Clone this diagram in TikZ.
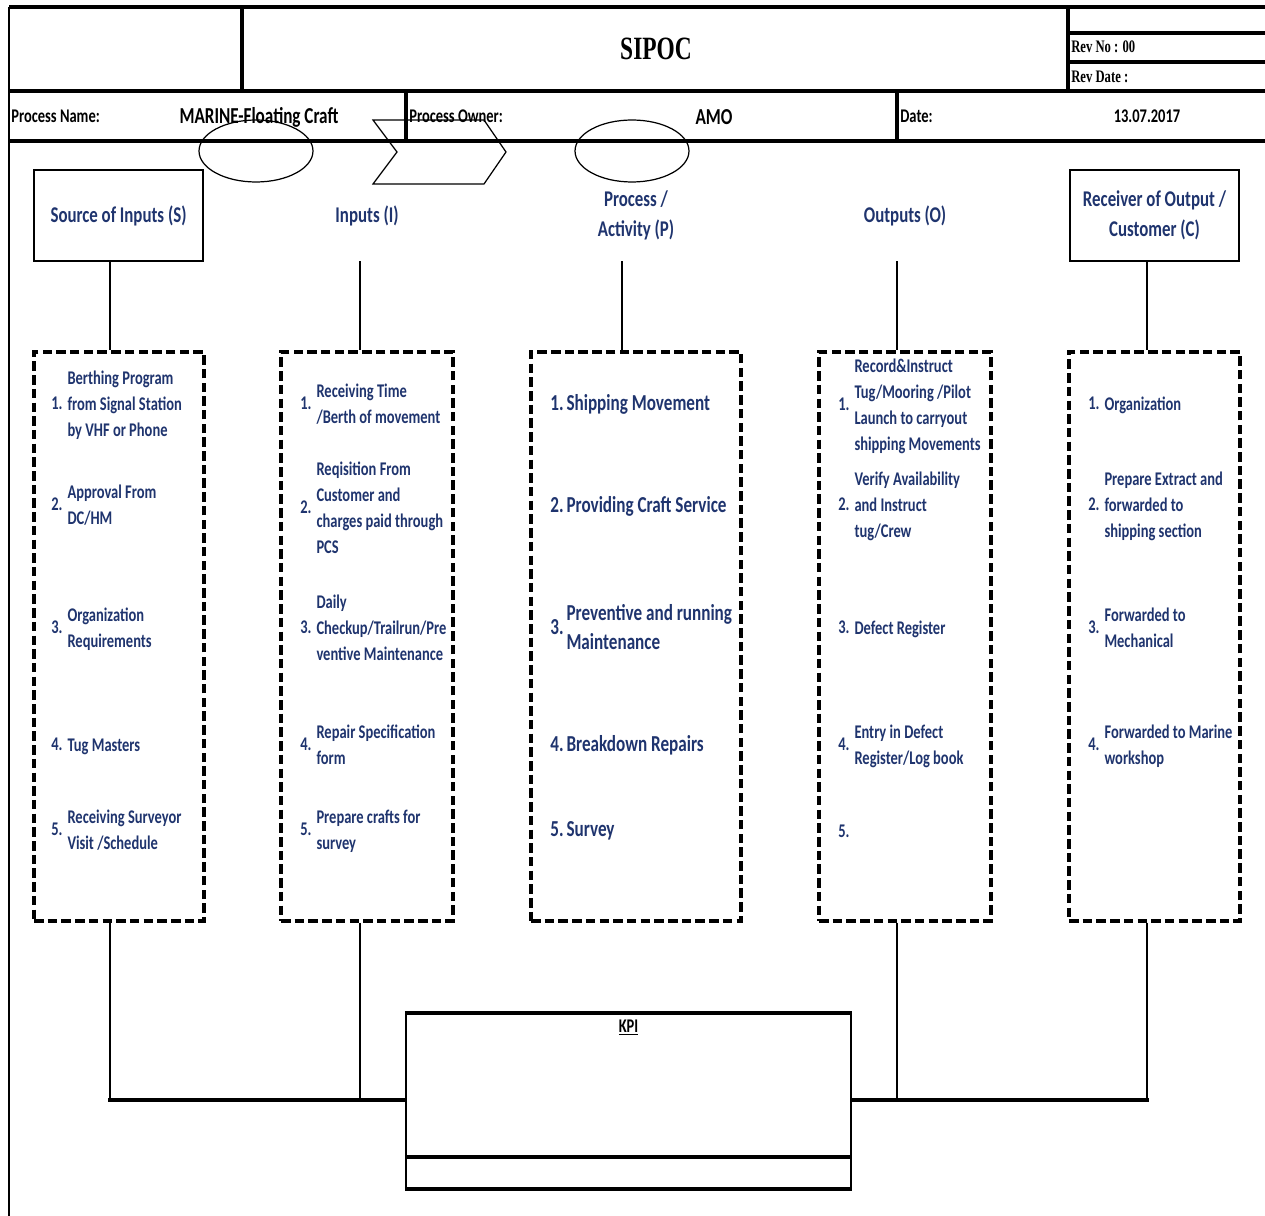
\documentclass[tikz,border=0pt]{standalone}
\usepackage{fontspec}
\usepackage{xcolor}
\usepackage{tikz}
\newfontfamily\cfont{Carlito}[FakeStretch=0.75]
\newfontfamily\rfont{Liberation Serif}[FakeStretch=0.72]
\definecolor{navy}{RGB}{31,52,110}
\newlength{\numw}\setlength{\numw}{9.2pt}
\newcommand{\rowitem}[2]{\makebox[\numw][l]{#1}$\vcenter{\hbox{\begin{tabular}{@{}l@{}}#2\end{tabular}}}$}

\begin{document}
\begin{tikzpicture}[x=0.02cm,y=-0.02cm,
  frm/.style={line width=2.2pt},
  border/.style={line width=1pt},
  outline/.style={line width=0.7pt},
  headbox/.style={minimum width=3.38cm,minimum height=1.82cm,inner sep=0pt,align=center,
    text=navy,font=\cfont\bfseries\fontsize{12.8}{17}\selectfont},
  listbox/.style={draw,line width=1.9pt,dash pattern=on 5.4pt off 2.4pt,minimum height=11.38cm,inner sep=0pt},
  itemtxt/.style={anchor=west,inner sep=0pt,text=navy,font=\cfont\bfseries\fontsize{11}{14.8}\selectfont},
  bigtxt/.style={itemtxt,font=\cfont\bfseries\fontsize{13}{17}\selectfont},
  lbl/.style={inner sep=0pt,font=\cfont\bfseries\fontsize{11}{13}\selectfont},
  biglbl/.style={inner sep=0pt,font=\cfont\bfseries\fontsize{13}{15}\selectfont},
  revlbl/.style={anchor=west,inner sep=0pt,font=\rfont\bfseries\fontsize{10}{12}\selectfont},
  link/.style={line width=1.6pt},
  thinlink/.style={line width=0.8pt},
  bus/.style={line width=2.4pt}]
\useasboundingbox (0,0) rectangle (1265,1216);
% header form
\draw[frm] (9,7) -- (1265,7);
\draw[border] (9,7) -- (9,1216);
\draw[frm] (242,7) -- (242,91);
\draw[frm] (1068,7) -- (1068,91);
\draw[frm] (1068,33) -- (1265,33);
\draw[frm] (1068,62) -- (1265,62);
\draw[frm] (9,91) -- (1265,91);
\draw[frm] (406,91) -- (406,141);
\draw[frm] (897,91) -- (897,141);
\draw[frm] (9,141) -- (1265,141);
\node[inner sep=0pt,font=\rfont\bfseries\fontsize{18.5}{20}\selectfont] (sipoc) at (656,49) {SIPOC};
\node[revlbl] (revno) at (1071,47) {Rev No : 00};
\node[revlbl] (revdate) at (1071,77) {Rev Date :};
\node[lbl,anchor=west] (pname) at (11,116) {Process Name:};
\node[biglbl] (pvalue) at (259,117) {MARINE-Floating Craft};
\node[lbl,anchor=west] (powner) at (409,116) {Process Owner:};
\node[biglbl] (ovalue) at (714,117) {AMO};
\node[lbl,anchor=west] (dname) at (900,116) {Date:};
\node[lbl] (dvalue) at (1147,116) {13.07.2017};
\draw[outline] (256,151) ellipse [x radius=1.14cm,y radius=0.62cm];
\draw[outline] (373,120) -- (484,120) -- (506,152) -- (484,184) -- (373,184) -- (397,152) -- cycle;
\draw[outline] (632,151) ellipse [x radius=1.14cm,y radius=0.62cm];
% column heads
\node[headbox,draw,line width=1.4pt] (src) at (118.5,215.5) {Source of Inputs (S)};
\node[headbox] (inp) at (367,215.5) {Inputs (I)};
\node[headbox] (proc) at (636,215.5) {Process /\\Activity (P)};
\node[headbox] (outp) at (905,215.5) {Outputs (O)};
\node[headbox,draw,line width=1.4pt] (cust) at (1154.5,215.5) {Receiver of Output /\\Customer (C)};
% lists
\node[listbox,minimum width=3.4cm] (sbox) at (119,636.5) {};
\node[listbox,minimum width=3.44cm] (ibox) at (367,636.5) {};
\node[listbox,minimum width=4.2cm] (pbox) at (636,636.5) {};
\node[listbox,minimum width=3.44cm] (obox) at (905,636.5) {};
\node[listbox,minimum width=3.42cm] (cbox) at (1154.5,636.5) {};
\node[itemtxt] (s1) at (51,405) {\rowitem{1.}{Berthing Program\\from Signal Station\\by VHF or Phone}};
\node[itemtxt] (s2) at (51,506) {\rowitem{2.}{Approval From\\DC/HM}};
\node[itemtxt] (s3) at (51,629) {\rowitem{3.}{Organization\\Requirements}};
\node[itemtxt] (s4) at (51,746) {\rowitem{4.}{Tug Masters}};
\node[itemtxt] (s5) at (51,831) {\rowitem{5.}{Receiving Surveyor\\Visit /Schedule}};
\node[itemtxt] (i1) at (300,405) {\rowitem{1.}{Receiving Time\\/Berth of movement}};
\node[itemtxt] (i2) at (300,509) {\rowitem{2.}{Reqisition From\\Customer and\\charges paid through\\PCS}};
\node[itemtxt] (i3) at (300,629) {\rowitem{3.}{Daily\\Checkup/Trailrun/Pre\\ventive Maintenance}};
\node[itemtxt] (i4) at (300,746) {\rowitem{4.}{Repair Specification\\form}};
\node[itemtxt] (i5) at (300,831) {\rowitem{5.}{Prepare crafts for\\survey}};
\node[bigtxt] (p1) at (550,405) {\rowitem{1.}{Shipping Movement}};
\node[bigtxt] (p2) at (550,507) {\rowitem{2.}{Providing Craft Service}};
\node[bigtxt] (p3) at (550,629) {\rowitem{3.}{Preventive and running\\Maintenance}};
\node[bigtxt] (p4) at (550,746) {\rowitem{4.}{Breakdown Repairs}};
\node[bigtxt] (p5) at (550,831) {\rowitem{5.}{Survey}};
\node[itemtxt] (o1) at (838,406) {\rowitem{1.}{Record\&Instruct\\Tug/Mooring /Pilot\\Launch to carryout\\shipping Movements}};
\node[itemtxt] (o2) at (838,506) {\rowitem{2.}{Verify Availability\\and Instruct\\tug/Crew}};
\node[itemtxt] (o3) at (838,629) {\rowitem{3.}{Defect Register}};
\node[itemtxt] (o4) at (838,746) {\rowitem{4.}{Entry in Defect\\Register/Log book}};
\node[itemtxt] (o5) at (838,831) {\rowitem{5.}{}};
\node[itemtxt] (c1) at (1088,405) {\rowitem{1.}{Organization}};
\node[itemtxt] (c2) at (1088,506) {\rowitem{2.}{Prepare Extract and\\forwarded to\\shipping section}};
\node[itemtxt] (c3) at (1088,629) {\rowitem{3.}{Forwarded to\\Mechanical}};
\node[itemtxt] (c4) at (1088,746) {\rowitem{4.}{Forwarded to Marine\\workshop}};
% KPI
\node[draw,line width=1.3pt,minimum width=8.9cm,minimum height=3.48cm,inner sep=0pt] (kpi) at (628.5,1101) {};
\draw[bus] (kpi.north west) -- (kpi.north east);
\draw[bus] (kpi.south west) -- (kpi.south east);
\draw[bus] ([yshift=0.64cm]kpi.south west) -- ([yshift=0.64cm]kpi.south east);
\node[lbl] (kpilbl) at ([yshift=-0.3cm]kpi.north) {\underline{KPI}};
% connectors
\coordinate (lS) at (110,0);
\coordinate (lI) at (360,0);
\coordinate (lP) at (622,0);
\coordinate (lO) at (897,0);
\coordinate (lC) at (1147,0);
\coordinate (hy) at (0,1100);
\draw[link] (src.south -| lS) -- (sbox.north -| lS);
\draw[link] (inp.south -| lI) -- (ibox.north -| lI);
\draw[link] (proc.south -| lP) -- (pbox.north -| lP);
\draw[link] (outp.south -| lO) -- (obox.north -| lO);
\draw[link] (cust.south -| lC) -- (cbox.north -| lC);
\draw[link] (sbox.south -| lS) -- (hy -| lS);
\draw[thinlink] (ibox.south -| lI) -- (hy -| lI);
\draw[thinlink] (obox.south -| lO) -- (hy -| lO);
\draw[link] (cbox.south -| lC) -- (hy -| lC);
\draw[bus,line cap=rect] (hy -| lS) -- (hy -| kpi.west);
\draw[bus,line cap=rect] (hy -| kpi.east) -- (hy -| lC);
\end{tikzpicture}
\end{document}
